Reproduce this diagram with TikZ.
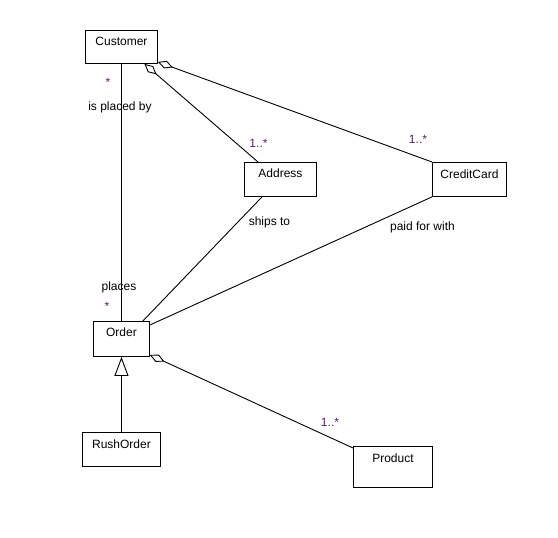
\documentclass[tikz,border=0pt]{standalone}
\usepackage{fontspec}
\setmainfont{Liberation Sans}
\usetikzlibrary{arrows.meta, positioning}
\definecolor{umlPurple}{HTML}{5A1F66}

\begin{document}
\begin{tikzpicture}[
        x=1pt, y=-1pt,
        font=\fontsize{12}{14}\selectfont,
        classbox/.style={
            draw=black,
            line width=0.9pt,
            anchor=north west,
            inner sep=0pt,
            text height=15pt,
            text depth=19pt
        },
        assoc/.style={
            draw=black,
            line width=0.9pt
        },
        aggregation/.style={
            assoc,
            {Diamond[open, length=16pt, width=8pt]}-
        },
        generalization/.style={
            assoc,
            -{Triangle[open, length=19pt, width=14pt]}
        },
        multlabel/.style={
            anchor=base,
            inner sep=0pt,
            text=umlPurple
        },
        rolelabel/.style={
            anchor=base,
            inner sep=0pt,
            text=black
        }
    ]

    % pixel grid: 1pt per pixel, y pointing down
    \useasboundingbox (0,0) rectangle (558,538);

    % classes
    \node[classbox, minimum width=72pt, text depth=18pt] (customer) at (85,30) {Customer};
    \node[classbox, minimum width=72pt] (address) at (244,162) {Address};
    \node[classbox, minimum width=74pt, text height=16pt, text depth=18pt] (creditcard) at (432,162) {CreditCard};
    \node[classbox, minimum width=56pt, text depth=20pt] (order) at (93,321) {Order};
    \node[classbox, minimum width=78pt, text height=16pt, text depth=18pt] (rushorder) at (82,432) {RushOrder};
    \node[classbox, minimum width=79pt, text height=16pt, text depth=25pt] (product) at (353,446) {Product};

    % associations
    \draw[assoc] (customer.south) -- (order.north);
    \draw[aggregation] ([xshift=23pt]customer.south) -- ([xshift=14pt]address.north west);
    \draw[aggregation] ([yshift=2pt]customer.south east) -- (creditcard.north west);
    \draw[assoc] ([xshift=-7pt]order.north east) -- ([xshift=18pt]address.south west);
    \draw[assoc] ([yshift=-4pt]order.north east) -- (creditcard.south west);
    \draw[aggregation] ([yshift=2pt]order.south east) -- ([yshift=-2pt]product.north west);
    \draw[generalization] (rushorder.north) -- (order.south);

    % role names and multiplicities
    \node[multlabel] (custmult) at (108,86) {*};
    \node[rolelabel] (placedby) at (120,110) {is placed by};
    \node[rolelabel] (places) at (119,290) {places};
    \node[multlabel] (ordermult) at (107,310) {*};
    \node[multlabel] (addrmult) at (258.5,147) {1..*};
    \node[rolelabel] (shipsto) at (269.5,225) {ships to};
    \node[multlabel] (cardmult) at (418,143) {1..*};
    \node[rolelabel] (paidfor) at (422.5,230) {paid for with};
    \node[multlabel] (prodmult) at (330,426) {1..*};

\end{tikzpicture}
\end{document}
